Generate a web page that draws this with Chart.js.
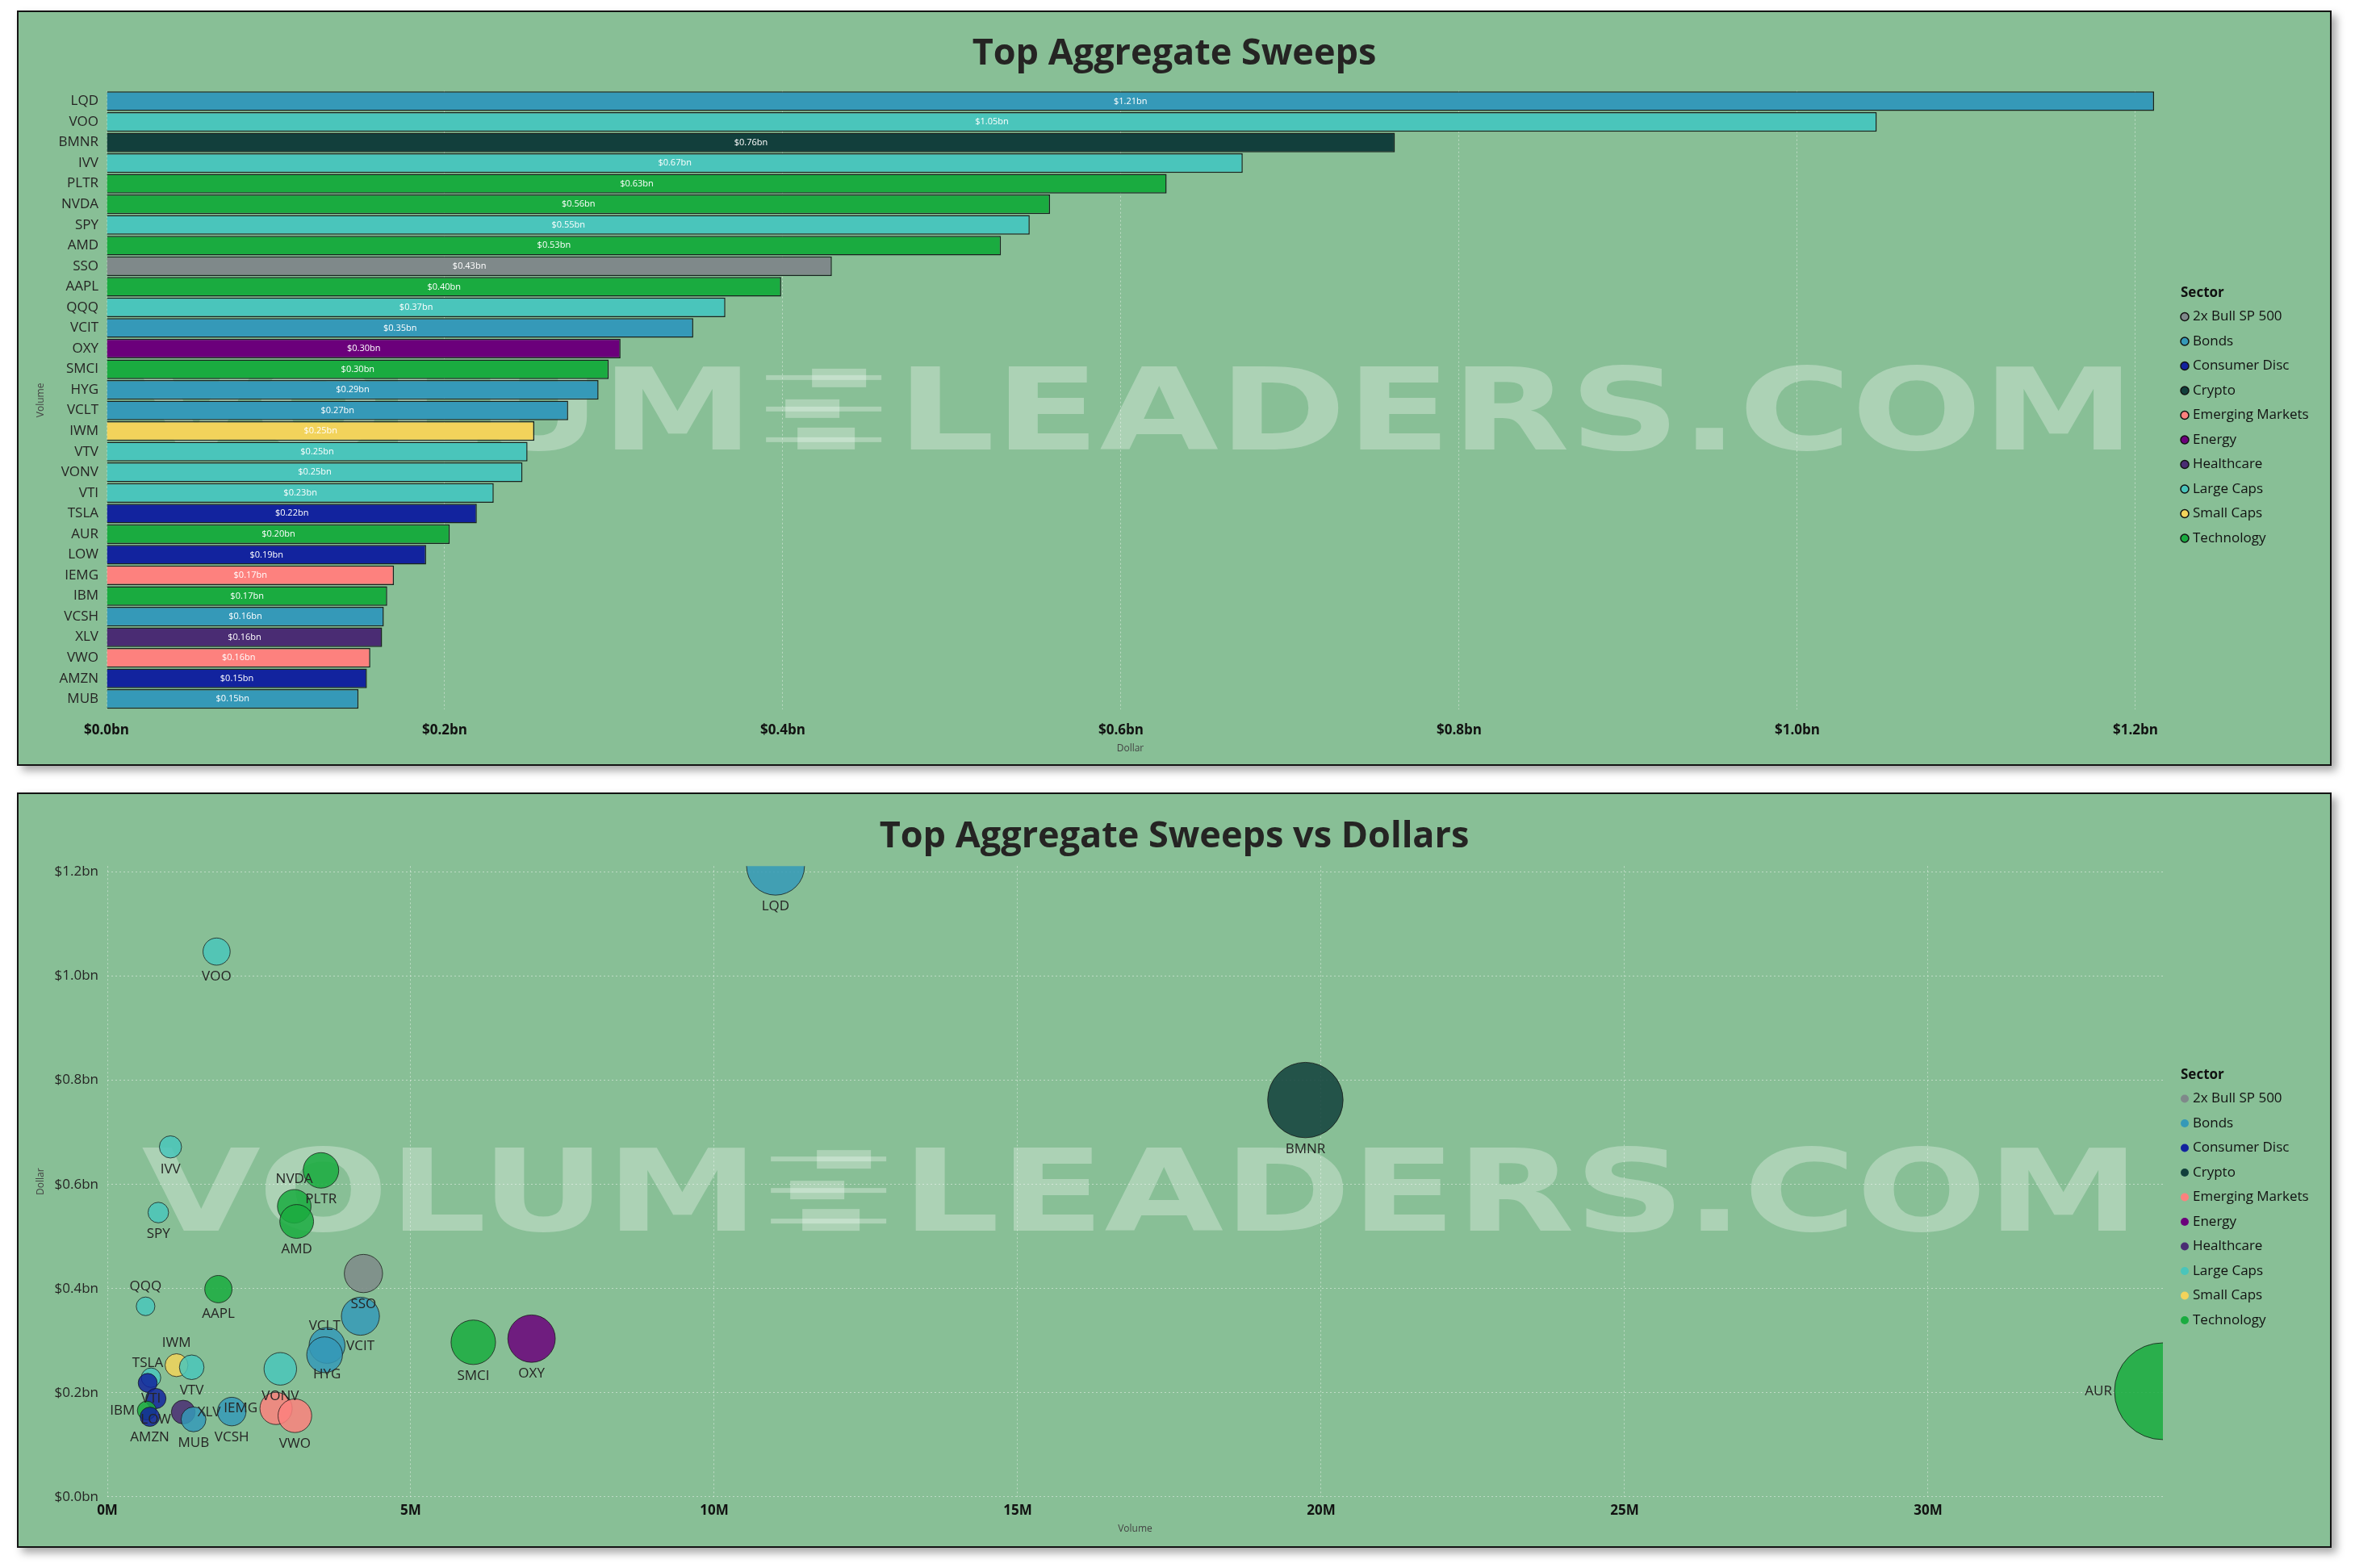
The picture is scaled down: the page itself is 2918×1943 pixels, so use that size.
<!DOCTYPE html>
<html>
<head>
<meta charset="utf-8">
<title>Top Aggregate Sweeps</title>
<script src="https://cdn.jsdelivr.net/npm/chart.js@4.4.1/dist/chart.umd.min.js"></script>
<style>
    body { margin: 0; background: #ffffff; width: 2918px; height: 1943px; position: relative; overflow: hidden; }
    .panel {
        position: absolute;
        box-sizing: border-box;
        border: 2px solid #141414;
        background: #88bf96;
        box-shadow: 6px 6px 10px rgba(0, 0, 0, 0.35);
    }
    .panel canvas { display: block; }
</style>
</head>
<body>
<div class="panel" style="left:21px;top:13px;width:2868px;height:936px">
    <canvas id="barChart" width="2864" height="932"></canvas>
</div>
<div class="panel" style="left:21px;top:982px;width:2868px;height:936px">
    <canvas id="bubbleChart" width="2864" height="932"></canvas>
</div>
<script>
// Data
const tickers = ["LQD", "VOO", "BMNR", "IVV", "PLTR", "NVDA", "SPY", "AMD", "SSO", "AAPL",
    "QQQ", "VCIT", "OXY", "SMCI", "HYG", "VCLT", "IWM", "VTV", "VONV", "VTI",
    "TSLA", "AUR", "LOW", "IEMG", "IBM", "VCSH", "XLV", "VWO", "AMZN", "MUB"];

// Dollar value of sweeps, in billions
const dollars = [1.211, 1.047, 0.762, 0.672, 0.627, 0.558, 0.546, 0.529, 0.429, 0.399,
    0.366, 0.347, 0.304, 0.297, 0.291, 0.273, 0.253, 0.249, 0.246, 0.229,
    0.219, 0.203, 0.189, 0.170, 0.166, 0.164, 0.163, 0.156, 0.154, 0.149];

// Share volume, in millions
const volumes = [11.01, 1.80, 19.74, 1.04, 3.52, 3.08, 0.84, 3.12, 4.22, 1.83,
    0.63, 4.17, 6.99, 6.03, 3.62, 3.58, 1.14, 1.39, 2.85, 0.72,
    0.665, 33.87, 0.80, 2.78, 0.65, 2.05, 1.25, 3.09, 0.70, 1.42];

const sectors = ["Bonds", "Large Caps", "Crypto", "Large Caps", "Technology", "Technology", "Large Caps", "Technology", "2x Bull SP 500", "Technology",
    "Large Caps", "Bonds", "Energy", "Technology", "Bonds", "Bonds", "Small Caps", "Large Caps", "Large Caps", "Large Caps",
    "Consumer Disc", "Technology", "Consumer Disc", "Emerging Markets", "Technology", "Bonds", "Healthcare", "Emerging Markets", "Consumer Disc", "Bonds"];

const sectorNames = ["2x Bull SP 500", "Bonds", "Consumer Disc", "Crypto", "Emerging Markets",
    "Energy", "Healthcare", "Large Caps", "Small Caps", "Technology"];

const dollarTicks = [0, 0.2, 0.4, 0.6, 0.8, 1.0, 1.2];
const volumeTicks = [0, 5, 10, 15, 20, 25, 30];

// Styling
const FONT = '"Segoe UI", "Open Sans", sans-serif';
const TEXT = "#252423";
const GRID = "rgba(235, 242, 236, 0.55)";

const sectorColors = {
    "2x Bull SP 500": "#7f898a",
    "Bonds": "#3599b8",
    "Consumer Disc": "#12239e",
    "Crypto": "#123f3c",
    "Emerging Markets": "#fd817e",
    "Energy": "#6b007b",
    "Healthcare": "#4a2c73",
    "Large Caps": "#4ac5bb",
    "Small Caps": "#f2d35b",
    "Technology": "#1aab40"
};

// where each bubble label sits (default: under the bubble)
const labelSide = { NVDA: "top", QQQ: "top", IWM: "top", TSLA: "top", VCLT: "top",
    IBM: "left", IEMG: "left", AUR: "left", XLV: "right" };

Chart.defaults.font.family = FONT;
Chart.defaults.color = TEXT;

const fmtDollar = v => "$" + v.toFixed(1) + "bn";
const bubbleRadius = v => 3.9 + 9.64 * Math.sqrt(v);

// empty axis on the right, keeps room for the legend without moving the title
const legendSpace = w => ({
    type: "linear",
    position: "right",
    afterFit: s => { s.width = w; },
    grid: { display: false, drawTicks: false },
    border: { display: false },
    ticks: { display: false }
});

// Faint VOLUMELEADERS.COM mark behind the data
const watermark = {
    id: "watermark",
    beforeDatasetsDraw(chart) {
        const { ctx, chartArea: a } = chart;
        const capH = 102, totalW = 2476, iconGap = 177;
        const cx = (a.left + a.right) / 2 + 7;
        const top = (a.top + a.bottom) / 2 + 10 - capH / 2;
        const x0 = cx - totalW / 2;
        ctx.save();
        ctx.fillStyle = "rgba(255, 255, 255, 0.3)";
        ctx.font = 'bold 140px "DejaVu Sans"';
        ctx.textBaseline = "alphabetic";
        const left = "VOLUM", right = "LEADERS.COM";
        const wl = ctx.measureText(left).width;
        const wr = ctx.measureText(right).width;
        const sx = (totalW - iconGap) / (wl + wr);

        ctx.save();
        ctx.translate(x0, top + capH);
        ctx.scale(sx, 1);
        ctx.fillText(left, 0, 0);
        ctx.restore();

        // candle icon between the words
        const ix = x0 + wl * sx + 15;
        const lines = [[10, 6], [49, 6], [87, 6]];
        lines.forEach(([y, h]) => ctx.fillRect(ix, top + y, 143, h));
        const bodies = [[57, 2, 67, 23], [24, 40, 67, 23], [39, 75, 71, 27]];
        bodies.forEach(([x, y, w, h]) => ctx.fillRect(ix + x, top + y, w, h));

        ctx.save();
        ctx.translate(x0 + wl * sx + iconGap, top + capH);
        ctx.scale(sx, 1);
        ctx.fillText(right, 0, 0);
        ctx.restore();
        ctx.restore();
    }
};

// "$1.21bn" inside each bar
const barLabels = {
    id: "barLabels",
    afterDatasetsDraw(chart) {
        const ctx = chart.ctx;
        const meta = chart.getDatasetMeta(0);
        ctx.save();
        ctx.font = "11px " + FONT;
        ctx.fillStyle = "#ffffff";
        ctx.textAlign = "center";
        ctx.textBaseline = "middle";
        meta.data.forEach((bar, i) => {
            ctx.fillText("$" + dollars[i].toFixed(2) + "bn", (bar.base + bar.x) / 2, bar.y);
        });
        ctx.restore();
    }
};

// ticker names next to the bubbles
const bubbleLabels = {
    id: "bubbleLabels",
    afterDatasetsDraw(chart) {
        const ctx = chart.ctx;
        const meta = chart.getDatasetMeta(0);
        ctx.save();
        ctx.font = "17px " + FONT;
        ctx.fillStyle = TEXT;
        ctx.textBaseline = "middle";
        meta.data.forEach((pt, i) => {
            const r = pt.options.radius;
            const side = labelSide[tickers[i]] || "bottom";
            if (side === "top") {
                ctx.textAlign = "center";
                ctx.fillText(tickers[i], pt.x, pt.y - r - 13);
            } else if (side === "left") {
                ctx.textAlign = "right";
                ctx.fillText(tickers[i], pt.x - r - 3, pt.y);
            } else if (side === "right") {
                ctx.textAlign = "left";
                ctx.fillText(tickers[i], pt.x + r + 3, pt.y);
            } else {
                ctx.textAlign = "center";
                ctx.fillText(tickers[i], pt.x, pt.y + r + 14);
            }
        });
        ctx.restore();
    }
};

// Sector legend on the right
const sectorLegend = {
    id: "sectorLegend",
    afterDraw(chart, args, opts) {
        const ctx = chart.ctx;
        ctx.save();
        ctx.textAlign = "left";
        ctx.textBaseline = "middle";
        ctx.fillStyle = "#111111";
        ctx.font = "bold 17px " + FONT;
        ctx.fillText("Sector", opts.x, opts.y);
        ctx.font = "17px " + FONT;
        sectorNames.forEach((name, i) => {
            const y = opts.y + 29 + i * 30.5;
            ctx.beginPath();
            ctx.arc(opts.x + 5, y, 5, 0, Math.PI * 2);
            ctx.fillStyle = sectorColors[name];
            ctx.fill();
            if (opts.outline) {
                ctx.lineWidth = 1.5;
                ctx.strokeStyle = "#111111";
                ctx.stroke();
            }
            ctx.fillStyle = "#111111";
            ctx.fillText(name, opts.x + 15, y);
        });
        ctx.restore();
    }
};

// Top: horizontal bars
new Chart(document.getElementById("barChart"), {
    type: "bar",
    data: {
        labels: tickers,
        datasets: [{
            data: dollars,
            backgroundColor: sectors.map(s => sectorColors[s]),
            borderColor: "#18231f",
            borderWidth: 1.5,
            barPercentage: 0.95,
            categoryPercentage: 1
        }]
    },
    options: {
        indexAxis: "y",
        responsive: false,
        animation: false,
        events: [],
        plugins: {
            legend: { display: false },
            tooltip: { enabled: false },
            title: {
                display: true,
                text: "Top Aggregate Sweeps",
                color: TEXT,
                font: { size: 45, weight: "bold", lineHeight: 1.2 },
                padding: { top: 25, bottom: 18.7 }
            },
            sectorLegend: { x: 2679, y: 348.5, outline: true }
        },
        scales: {
            x: {
                min: 0,
                max: Math.max(...dollars),
                afterBuildTicks: s => { s.ticks = dollarTicks.map(v => ({ value: v })); },
                afterFit: s => { s.height = 68; },
                grid: { color: GRID, lineWidth: 1, drawTicks: false },
                border: { display: false, dash: [2, 3] },
                ticks: {
                    callback: v => fmtDollar(v),
                    color: "#111111",
                    font: { size: 17, weight: "bold" },
                    padding: 16,
                    maxRotation: 0
                },
                title: {
                    display: true,
                    text: "Dollar",
                    color: "#444444",
                    font: { size: 12 },
                    padding: { top: 0, bottom: 11.8 }
                }
            },
            y: {
                afterFit: s => { s.width = 109; },
                grid: { display: false, drawTicks: false },
                border: { display: false },
                ticks: { autoSkip: false, padding: 10, color: TEXT, font: { size: 17 } },
                title: {
                    display: true,
                    text: "Volume",
                    color: "#444444",
                    font: { size: 12 },
                    padding: { top: 20, bottom: 0 }
                }
            },
            legendRoom: legendSpace(218)
        }
    },
    plugins: [watermark, barLabels, sectorLegend]
});

// Bottom: volume vs dollars bubbles
new Chart(document.getElementById("bubbleChart"), {
    type: "bubble",
    data: {
        datasets: [{
            data: tickers.map((t, i) => ({ x: volumes[i], y: dollars[i], r: bubbleRadius(volumes[i]) })),
            backgroundColor: sectors.map(s => sectorColors[s] + "d9"),
            borderColor: "rgba(20, 20, 20, 0.75)",
            borderWidth: 1,
            clip: 0
        }]
    },
    options: {
        responsive: false,
        animation: false,
        events: [],
        plugins: {
            legend: { display: false },
            tooltip: { enabled: false },
            title: {
                display: true,
                text: "Top Aggregate Sweeps vs Dollars",
                color: TEXT,
                font: { size: 45, weight: "bold", lineHeight: 1.2 },
                padding: { top: 26, bottom: 9.3 }
            },
            sectorLegend: { x: 2679, y: 348.5, outline: false }
        },
        scales: {
            x: {
                type: "linear",
                min: 0,
                max: Math.max(...volumes),
                afterBuildTicks: s => { s.ticks = volumeTicks.map(v => ({ value: v })); },
                afterFit: s => { s.height = 57.6; },
                grid: { color: GRID, lineWidth: 1, drawTicks: false },
                border: { display: false, dash: [2, 3] },
                ticks: {
                    callback: v => v + "M",
                    color: "#111111",
                    font: { size: 17, weight: "bold" },
                    padding: 7.4,
                    maxRotation: 0
                },
                title: {
                    display: true,
                    text: "Volume",
                    color: "#444444",
                    font: { size: 12 },
                    padding: { top: 0, bottom: 10.8 }
                }
            },
            y: {
                min: 0,
                max: Math.max(...dollars),
                afterBuildTicks: s => { s.ticks = dollarTicks.map(v => ({ value: v })); },
                afterFit: s => { s.width = 110; },
                grid: { color: GRID, lineWidth: 1, drawTicks: false },
                border: { display: false, dash: [2, 3] },
                ticks: { callback: v => fmtDollar(v), padding: 11, color: TEXT, font: { size: 17 } },
                title: {
                    display: true,
                    text: "Dollar",
                    color: "#444444",
                    font: { size: 12 },
                    padding: { top: 20.8, bottom: 0 }
                }
            },
            legendRoom: legendSpace(207)
        }
    },
    plugins: [watermark, bubbleLabels, sectorLegend]
});
</script>
</body>
</html>
